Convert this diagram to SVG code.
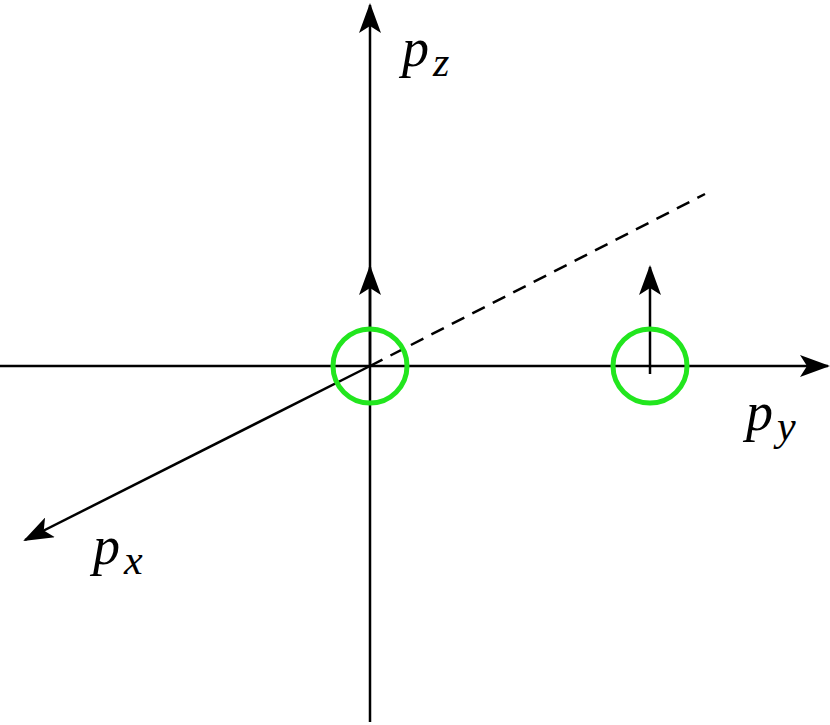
<svg xmlns="http://www.w3.org/2000/svg" width="830" height="725" viewBox="0 0 830 725">
<style>
.ax{stroke:#000;stroke-width:2.5;fill:none}
.c{stroke:#22e61e;stroke-width:5;fill:none}
.t{font-family:"Liberation Serif",serif;font-style:italic;font-size:54px}
.s{font-family:"Liberation Serif",serif;font-style:italic;font-size:42px}
</style>
<defs>
<marker id="a" viewBox="0 0 30 22" refX="28" refY="11" markerWidth="30" markerHeight="22" markerUnits="userSpaceOnUse" orient="auto">
<path d="M0,0 L30,11 L0,22 L7,11 Z" fill="#000"/>
</marker>
</defs>
<g id="connectors">
<line class="ax" x1="370" y1="722" x2="370" y2="5" marker-end="url(#a)"/>
<line class="ax" x1="0" y1="366" x2="828" y2="366" marker-end="url(#a)"/>
<line class="ax" x1="370" y1="366" x2="25" y2="540" marker-end="url(#a)"/>
<line class="ax" x1="370" y1="366" x2="705" y2="194" stroke-dasharray="14,9"/>
<line class="ax" x1="370" y1="366" x2="370" y2="267" marker-end="url(#a)"/>
<line class="ax" x1="650" y1="374" x2="650" y2="267" marker-end="url(#a)"/>
</g>
<g id="n1"><circle class="c" cx="370" cy="366" r="37"/></g>
<g id="n2"><circle class="c" cx="650" cy="366" r="37"/></g>
<g id="labels">
<text class="t" x="402" y="66">p<tspan class="s" dx="4" dy="10">z</tspan></text>
<text class="t" x="746" y="430">p<tspan class="s" dx="4" dy="10">y</tspan></text>
<text class="t" x="93" y="564">p<tspan class="s" dx="4" dy="10">x</tspan></text>
</g>
</svg>
